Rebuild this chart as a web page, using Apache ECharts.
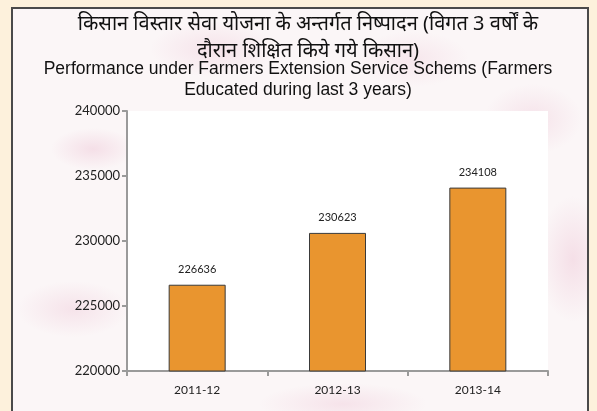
<!DOCTYPE html>
<html>
<head>
<meta charset="utf-8">
<script src="https://cdn.jsdelivr.net/npm/echarts@6/dist/echarts.min.js"></script>
<style>
  html, body { margin: 0; padding: 0; width: 597px; height: 411px; overflow: hidden; background: #fdf1dc; }
  #frame {
    position: absolute; left: 11px; top: 7px; width: 578px; height: 420px;
    border: 2px solid #4a4a4a; box-sizing: border-box;
    background:
      radial-gradient(ellipse 60px 30px at 80px 140px, rgba(230,170,195,0.30), rgba(255,255,255,0) 70%),
      radial-gradient(ellipse 90px 40px at 200px 40px, rgba(230,170,195,0.25), rgba(255,255,255,0) 70%),
      radial-gradient(ellipse 70px 50px at 520px 110px, rgba(230,170,195,0.25), rgba(255,255,255,0) 70%),
      radial-gradient(ellipse 50px 90px at 560px 250px, rgba(230,170,195,0.30), rgba(255,255,255,0) 70%),
      radial-gradient(ellipse 80px 40px at 60px 300px, rgba(230,170,195,0.25), rgba(255,255,255,0) 70%),
      radial-gradient(ellipse 120px 30px at 330px 395px, rgba(230,170,195,0.25), rgba(255,255,255,0) 70%),
      radial-gradient(ellipse 80px 40px at 400px 50px, rgba(230,170,195,0.20), rgba(255,255,255,0) 70%),
      #fbf6f7;
  }
  #main { position: absolute; left: 0; top: 0; width: 597px; height: 411px; }
</style>
</head>
<body>
<div id="frame"></div>
<div id="main"></div>
<script>
// 数据
var categories = ['2011-12', '2012-13', '2013-14'];
var farmersEducated = [226636, 230623, 234108];
var yTicks = [220000, 225000, 230000, 235000, 240000];

var titleHindi = 'किसान विस्तार सेवा योजना के अन्तर्गत निष्पादन (विगत 3 वर्षों के\nदौरान शिक्षित किये गये किसान)';
var titleEng = 'Performance under Farmers Extension Service Schems (Farmers\nEducated during last 3 years)';

var myChart = echarts.init(document.getElementById('main'));
var option = {
    animation: false,
    title: [
        {
            text: titleHindi,
            left: 303, top: 6, textAlign: 'center',
            textStyle: { fontFamily: 'Noto Sans, sans-serif', fontSize: 20, fontWeight: 'normal', color: '#111', lineHeight: 27 }
        },
        {
            text: titleEng,
            left: 293, top: 54, textAlign: 'center',
            textStyle: { fontFamily: 'Liberation Sans, Arial, sans-serif', fontSize: 17.5, fontWeight: 'normal', color: '#111', lineHeight: 21 }
        }
    ],
    grid: {
        left: 127, right: 49, top: 111, bottom: 40,
        show: true, backgroundColor: '#fff', borderWidth: 0
    },
    xAxis: {
        type: 'category',
        data: categories,
        axisLine: { lineStyle: { color: '#9a9a9a', width: 2 } },
        axisTick: { show: true, alignWithLabel: false, length: 5, lineStyle: { color: '#9a9a9a', width: 2 } },
        axisLabel: { margin: 13, color: '#222', fontFamily: 'Lato, sans-serif', fontSize: 12 }
    },
    yAxis: {
        type: 'value',
        min: yTicks[0],
        max: yTicks[yTicks.length - 1],
        interval: 5000,
        splitLine: { show: false },
        axisLine: { show: true, lineStyle: { color: '#9a9a9a', width: 2 } },
        axisTick: { show: true, length: 5, lineStyle: { color: '#9a9a9a', width: 2 } },
        axisLabel: {
            margin: 7, color: '#222', fontFamily: 'Lato, sans-serif', fontSize: 13,
            formatter: function (v) { return String(v); }
        }
    },
    series: [{
        type: 'bar',
        data: farmersEducated,
        barWidth: 57,
        itemStyle: { color: '#e9952f', borderColor: '#3a3a3a', borderWidth: 1 },
        label: {
            show: true, position: 'top', distance: 10,
            color: '#222', fontFamily: 'Lato, sans-serif', fontSize: 11
        }
    }]
};
myChart.setOption(option);
</script>
</body>
</html>
